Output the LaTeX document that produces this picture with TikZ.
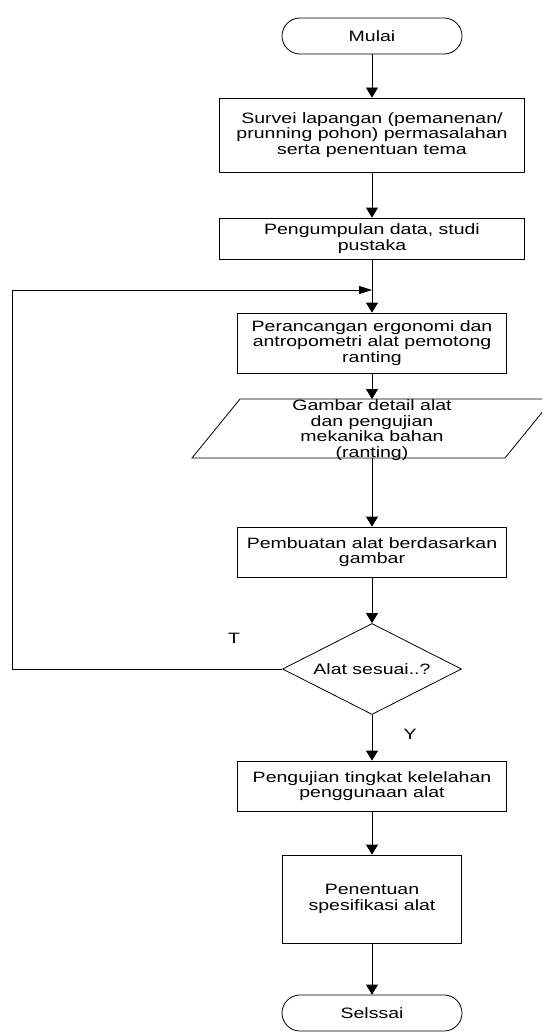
\documentclass[tikz,border=0pt]{standalone}
\usepackage{fontspec}
\setmainfont{Liberation Sans}[FakeStretch=1.3]
\usetikzlibrary{shapes.geometric,arrows.meta}

\begin{document}
\begin{tikzpicture}[x=1pt,y=-1pt,line width=0.8pt,
  font=\fontsize{15}{15.5}\selectfont,
  kotak/.style={draw,rectangle,align=center,inner sep=0pt},
  ujung/.style={draw,rectangle,rounded corners=18pt,minimum width=180pt,minimum height=36pt},
  keputusan/.style={draw,diamond,aspect=1.97,inner sep=0pt,minimum width=179pt,minimum height=91pt},
  panah/.style={-{Triangle[length=10pt,width=12pt]}},
  panahh/.style={-{Triangle[length=13pt,width=8pt]}}]
  \useasboundingbox (0,0) rectangle (542,1035);
  \clip (0,0) rectangle (542,1035);
  \node (mulai) at (372,36) [ujung] {Mulai};
  \node (survei) at (372,135) [kotak,minimum width=305pt,minimum height=74pt]
    {Survei lapangan (pemanenan/\\prunning pohon) permasalahan\\serta penentuan tema};
  \node (pustaka) at (372,238.5) [kotak,minimum width=305pt,minimum height=41pt]
    {Pengumpulan data, studi\\pustaka};
  \node (perancangan) at (372,343) [kotak,minimum width=269pt,minimum height=60pt]
    {Perancangan ergonomi dan\\antropometri alat pemotong\\ranting};
  % jajaran genjang gambar detail
  \coordinate (atas) at (372,399);
  \coordinate (bawah) at (372,458);
  \draw (240,399) -- (553,399) -- (505,458) -- (192,458) -- cycle;
  \node (gambar) at (372,430) [align=center,inner sep=0pt]
    {Gambar detail alat\\dan pengujian\\mekanika bahan\\(ranting)};
  \node (pembuatan) at (372,552) [kotak,minimum width=269pt,minimum height=50pt]
    {Pembuatan alat berdasarkan\\gambar};
  \node (cek) at (372,669) [keputusan] {Alat sesuai..?};
  \node (pengujian) at (372,786) [kotak,minimum width=269pt,minimum height=50pt]
    {Pengujian tingkat kelelahan\\penggunaan alat};
  \node (spesifikasi) at (372,899) [kotak,minimum width=179pt,minimum height=88pt]
    {Penentuan\\spesifikasi alat};
  \node (selesai) at (372,1013) [ujung] {Selssai};
  \node (labelT) at (234,638) {T};
  \node (labelY) at (410,734) {Y};
  \foreach \dari/\ke in {mulai/survei,survei/pustaka,pustaka/perancangan,perancangan/atas,
    bawah/pembuatan,pembuatan/cek,cek/pengujian,pengujian/spesifikasi,spesifikasi/selesai}
  {
    \draw[panah] (\dari) -- (\ke);
  }
  % umpan balik bila alat belum sesuai
  \coordinate (gabung) at (372,290);
  \draw[panahh] (cek.west) -- (12,669) |- (gabung);
\end{tikzpicture}
\end{document}
